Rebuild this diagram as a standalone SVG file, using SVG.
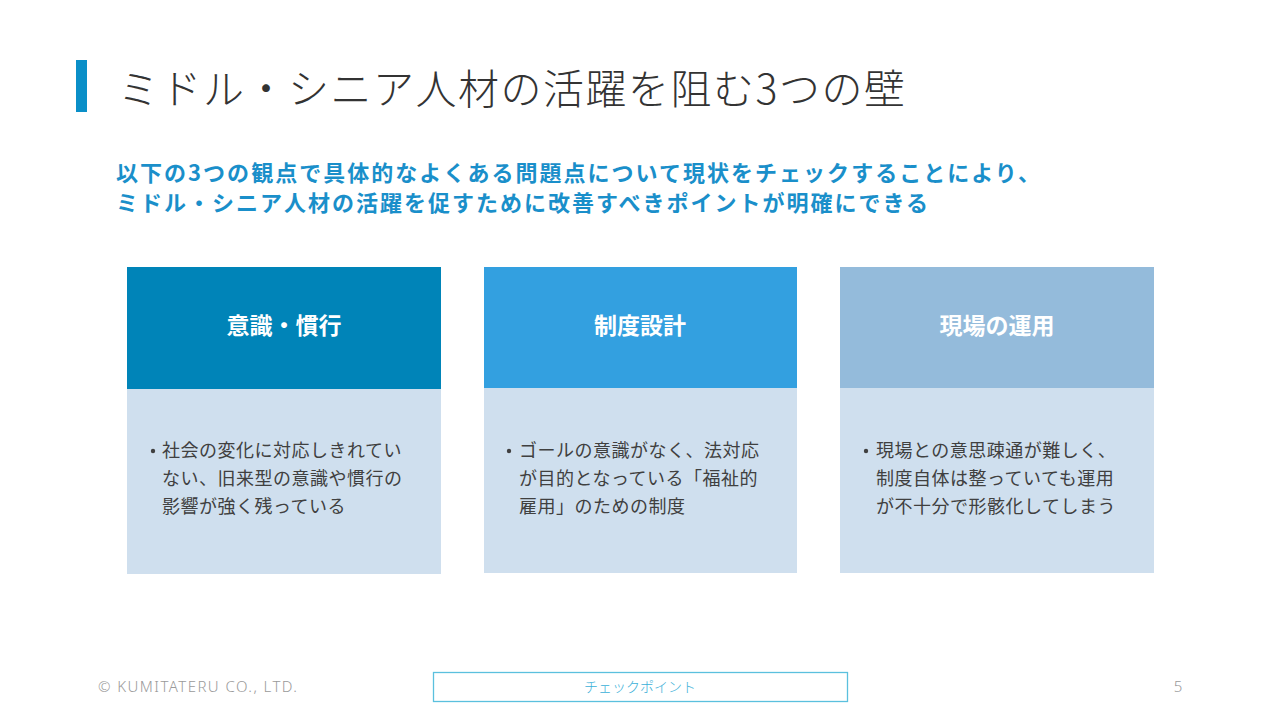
<svg xmlns="http://www.w3.org/2000/svg" width="1280" height="720" viewBox="0 0 1280 720">
<style>
.jp{font-family:"Noto Sans CJK JP","Noto Sans",sans-serif}
.title{font-size:41px;font-weight:300;fill:#333333}
.sub{font-size:22px;font-weight:700;fill:#1A8FCA}
.hdr{font-size:23px;font-weight:700;fill:#FFFFFF}
.body{font-size:18px;font-weight:400;fill:#404040;letter-spacing:0.5px}
.bodybg{fill:#CFDFEE}
.foot{font-family:"Noto Sans","Liberation Sans",sans-serif;font-size:15px;font-weight:300;fill:#9A9A9A}
</style>
<rect width="1280" height="720" fill="#FFFFFF"/>
<g id="title">
<rect x="76" y="60" width="11" height="52" fill="#0A8FC8"/>
<text class="jp title" x="118" y="104" textLength="787" lengthAdjust="spacing">ミドル・シニア人材の活躍を阻む3つの壁</text>
</g>
<g id="subtitle">
<text class="jp sub" x="116" y="181" textLength="924" lengthAdjust="spacing">以下の3つの観点で具体的なよくある問題点について現状をチェックすることにより、</text>
<text class="jp sub" x="116" y="211" textLength="812" lengthAdjust="spacing">ミドル・シニア人材の活躍を促すために改善すべきポイントが明確にできる</text>
</g>
<g id="node-ishiki">
<rect x="127" y="267" width="314" height="122" fill="#0084B8"/>
<rect class="bodybg" x="127" y="389" width="314" height="185"/>
<text class="jp hdr" x="284" y="334" text-anchor="middle">意識・慣行</text>
<circle cx="153" cy="451" r="2.2" fill="#404040"/>
<text class="jp body" x="162" y="457">社会の変化に対応しきれてい</text>
<text class="jp body" x="162" y="485">ない、旧来型の意識や慣行の</text>
<text class="jp body" x="162" y="513">影響が強く残っている</text>
</g>
<g id="node-seido">
<rect x="484" y="267" width="313" height="121" fill="#33A0E0"/>
<rect class="bodybg" x="484" y="388" width="313" height="185"/>
<text class="jp hdr" x="640" y="334" text-anchor="middle">制度設計</text>
<circle cx="509" cy="451" r="2.2" fill="#404040"/>
<text class="jp body" x="519" y="457">ゴールの意識がなく、法対応</text>
<text class="jp body" x="519" y="485">が目的となっている「福祉的</text>
<text class="jp body" x="519" y="513">雇用」のための制度</text>
</g>
<g id="node-genba">
<rect x="840" y="267" width="314" height="121" fill="#94BBDB"/>
<rect class="bodybg" x="840" y="388" width="314" height="185"/>
<text class="jp hdr" x="997" y="334" text-anchor="middle">現場の運用</text>
<circle cx="866" cy="451" r="2.2" fill="#404040"/>
<text class="jp body" x="876" y="457">現場との意思疎通が難しく、</text>
<text class="jp body" x="876" y="485">制度自体は整っていても運用</text>
<text class="jp body" x="876" y="513">が不十分で形骸化してしまう</text>
</g>
<g id="connectors"></g>
<g id="footer">
<text class="foot" x="98" y="692" textLength="199" lengthAdjust="spacing">© KUMITATERU CO., LTD.</text>
<rect x="433.5" y="672.5" width="414" height="29" fill="#FFFFFF" stroke="#5BC0DE" stroke-width="1.3"/>
<text class="jp" x="640" y="692" text-anchor="middle" font-size="14" font-weight="300" fill="#3BB0D8">チェックポイント</text>
<text class="foot" x="1178" y="692" text-anchor="middle">5</text>
</g>
</svg>
